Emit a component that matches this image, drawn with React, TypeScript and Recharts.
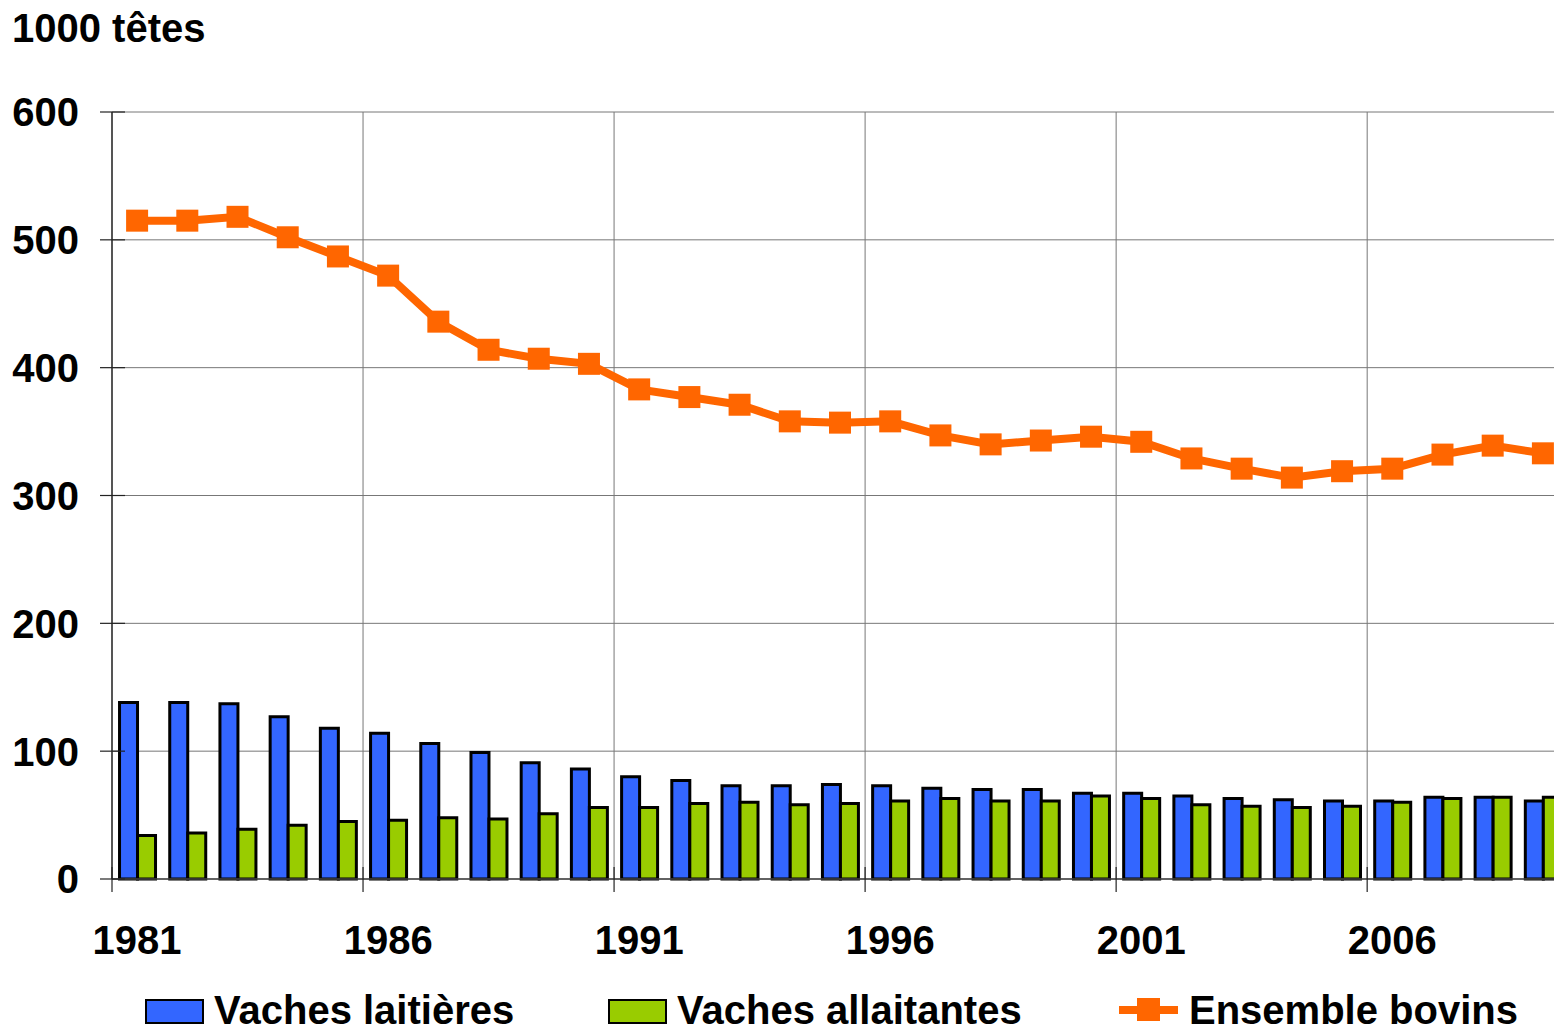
import React from "react";
import {
  ComposedChart,
  Bar,
  Line,
  XAxis,
  YAxis,
  CartesianGrid,
} from "recharts";

// cheptel bovin, milliers de têtes
const years = [
  1981, 1982, 1983, 1984, 1985, 1986, 1987, 1988, 1989, 1990,
  1991, 1992, 1993, 1994, 1995, 1996, 1997, 1998, 1999, 2000,
  2001, 2002, 2003, 2004, 2005, 2006, 2007, 2008, 2009,
];
const vachesLaitieres = [
  138, 138, 137, 127, 118, 114, 106, 99, 91, 86,
  80, 77, 73, 73, 74, 73, 71, 70, 70, 67,
  67, 65, 63, 62, 61, 61, 64, 64, 61,
];
const vachesAllaitantes = [
  34, 36, 39, 42, 45, 46, 48, 47, 51, 56,
  56, 59, 60, 58, 59, 61, 63, 61, 61, 65,
  63, 58, 57, 56, 57, 60, 63, 64, 64,
];
const ensembleBovins = [
  515, 515, 518, 502, 487, 472, 436, 414, 407, 403,
  383, 377, 371, 358, 357, 358, 347, 340, 343, 346,
  342, 329, 321, 314, 319, 321, 332, 339, 333,
];
const yTicks = [0, 100, 200, 300, 400, 500, 600];

const BLUE = "#3366FF";
const GREEN = "#99CC00";
const ORANGE = "#FF6600";
const FONT = "'Liberation Sans', Arial, sans-serif";

const CHART_W = 1570;
const CHART_H = 1035;
const LEFT = 112;
const TOP = 112;
const RIGHT = 2;
const X_AXIS_H = 80;
const BOTTOM_MARGIN = 76;
const PLOT_BOTTOM = CHART_H - X_AXIS_H - BOTTOM_MARGIN;
const BAND = (CHART_W - LEFT - RIGHT) / years.length;

const data = years.map((year, i) => ({
  year,
  lait: vachesLaitieres[i],
  allait: vachesAllaitantes[i],
  total: ensembleBovins[i],
}));

const legendItems = [
  { name: "Vaches laitières", color: BLUE, kind: "bar", left: 145 },
  { name: "Vaches allaitantes", color: GREEN, kind: "bar", left: 608 },
  { name: "Ensemble bovins", color: ORANGE, kind: "line", left: 1119 },
];

const YTick = (props: any) => {
  const { y, payload } = props;
  return (
    <g>
      <line x1={LEFT - 12} x2={LEFT + 13} y1={y} y2={y} stroke="#222" strokeWidth={1.2} />
      <text
        x={LEFT - 33}
        y={y}
        dy="0.36em"
        textAnchor="end"
        fontFamily={FONT}
        fontWeight="bold"
        fontSize={40}
        fill="#000"
      >
        {payload.value}
      </text>
    </g>
  );
};

const XTick = (props: any) => {
  const { payload, index } = props;
  if (index % 5 !== 0) return <g />;
  const bx = payload.coordinate - BAND / 2;
  return (
    <g>
      <line x1={bx} x2={bx} y1={PLOT_BOTTOM - 12} y2={PLOT_BOTTOM + 13} stroke="#222" strokeWidth={1.2} />
      <text
        x={payload.coordinate}
        y={PLOT_BOTTOM + 61}
        dy="0.36em"
        textAnchor="middle"
        fontFamily={FONT}
        fontWeight="bold"
        fontSize={40}
        fill="#000"
      >
        {payload.value}
      </text>
    </g>
  );
};

const SquareDot = (props: any) => {
  const { cx, cy, index } = props;
  return <rect key={`dot-${index}`} x={cx - 11} y={cy - 11} width={22} height={22} fill={ORANGE} />;
};

export default function App() {
  return (
    <div
      style={{
        position: "absolute",
        left: 0,
        top: 0,
        width: 1554,
        height: 1035,
        overflow: "hidden",
        background: "#fff",
        fontFamily: FONT,
      }}
    >
      <div
        style={{
          position: "absolute",
          left: 12,
          top: 8,
          fontSize: 40,
          lineHeight: "40px",
          fontWeight: "bold",
          color: "#000",
        }}
      >
        1000 têtes
      </div>

      <ComposedChart
        width={CHART_W}
        height={CHART_H}
        data={data}
        margin={{ top: TOP, right: RIGHT, left: 0, bottom: BOTTOM_MARGIN }}
        barCategoryGap="15%"
        barGap={0}
      >
        <CartesianGrid
          stroke="#777"
          strokeWidth={1}
          verticalCoordinatesGenerator={({ offset }: any) =>
            years
              .map((_, i) => i)
              .filter((i) => i % 5 === 0)
              .map((i) => offset.left + (i * offset.width) / years.length)
          }
        />
        <XAxis
          dataKey="year"
          interval={0}
          height={X_AXIS_H}
          tickLine={false}
          tick={<XTick />}
          axisLine={{ stroke: "#444", strokeWidth: 1.5 }}
        />
        <YAxis
          width={LEFT}
          domain={[0, 600]}
          ticks={yTicks}
          tickLine={false}
          tick={<YTick />}
          axisLine={{ stroke: "#333", strokeWidth: 1.5 }}
        />
        <Bar dataKey="lait" fill={BLUE} stroke="#000" strokeWidth={3} isAnimationActive={false} />
        <Bar dataKey="allait" fill={GREEN} stroke="#000" strokeWidth={3} isAnimationActive={false} />
        <Line
          dataKey="total"
          stroke={ORANGE}
          strokeWidth={8}
          dot={<SquareDot />}
          activeDot={false}
          isAnimationActive={false}
        />
      </ComposedChart>

      {legendItems.map((item) => (
        <div
          key={item.name}
          style={{
            position: "absolute",
            left: item.left,
            top: 990,
            height: 40,
            display: "flex",
            alignItems: "flex-start",
            fontSize: 40,
            lineHeight: "40px",
            fontWeight: "bold",
            color: "#000",
            whiteSpace: "nowrap",
          }}
        >
          {item.kind === "bar" ? (
            <div
              style={{
                marginTop: 9,
                width: 59,
                height: 25,
                boxSizing: "border-box",
                background: item.color,
                border: "2.5px solid #000",
              }}
            />
          ) : (
            <div style={{ position: "relative", marginTop: 8, width: 59, height: 23 }}>
              <div style={{ position: "absolute", left: 0, top: 7.5, width: 59, height: 8, background: item.color }} />
              <div style={{ position: "absolute", left: 18, top: 0, width: 23, height: 23, background: item.color }} />
            </div>
          )}
          <span style={{ marginLeft: item.kind === "bar" ? 10 : 11 }}>{item.name}</span>
        </div>
      ))}
    </div>
  );
}
